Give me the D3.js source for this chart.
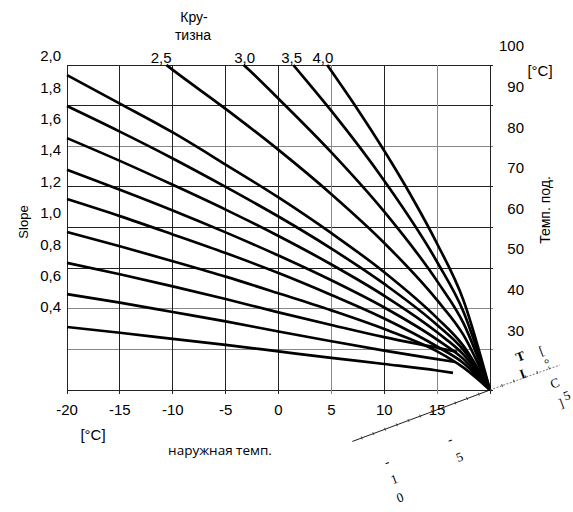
<!DOCTYPE html>
<html>
<head>
<meta charset="utf-8">
<script src="https://cdn.jsdelivr.net/npm/d3@7/dist/d3.min.js"></script>
<style>
  body { margin: 0; background: #fff; }
  text { font-family: "Liberation Sans", Arial, sans-serif; fill: #000; }
</style>
</head>
<body>
<div id="chart"></div>
<script>
// outdoor temperature axis and flow temperature axis
const outdoorTicks = [-20, -15, -10, -5, 0, 5, 10, 15, 20];
const outdoorLabels = ["-20", "-15", "-10", "-5", "0", "5", "10", "15"];
const flowTicks = [100, 90, 80, 70, 60, 50, 40, 30, 20];
const flowLabels = [100, 90, 80, 70, 60, 50, 40, 30];
const slopeLabels = [2.0, 1.8, 1.6, 1.4, 1.2, 1.0, 0.8, 0.6, 0.4];
const topSlopes = ["2,5", "3,0", "3,5", "4,0"];
const topSlopeAt = [-11.1, -3.2, 1.25, 4.2];

// curves: [outdoor temp, flow temp]
const curveA = [[-20, 97.5], [-15, 90.5], [-10, 83.4], [-5, 75.5], [0, 67.4], [5, 58.6], [10, 49.0], [15, 37.7], [17.5, 30.8], [20, 20]];
const curveB = [[-20, 89.9], [-15, 83.6], [-10, 77.0], [-5, 70.0], [0, 62.7], [5, 54.8], [10, 46.1], [15, 36.0], [17.5, 29.8], [20, 20]];
const curveC = [[-20, 82.0], [-15, 76.4], [-10, 70.5], [-5, 64.4], [0, 57.9], [5, 50.9], [10, 43.2], [15, 34.2], [17.5, 28.7], [20, 20]];
const curveD = [[-20, 74.2], [-15, 69.3], [-10, 64.2], [-5, 58.8], [0, 53.1], [5, 47.0], [10, 40.3], [15, 32.4], [17.5, 27.6], [20, 20]];
const curveE = [[-20, 67.0], [-15, 62.8], [-10, 58.3], [-5, 53.7], [0, 48.8], [5, 43.4], [10, 37.6], [15, 30.7], [17.5, 26.6], [20, 20]];
const curveF = [[-20, 58.9], [-15, 55.4], [-10, 51.7], [-5, 47.9], [0, 43.8], [5, 39.6], [10, 35.0], [15, 29.5], [17.5, 25.5], [20, 20]];
const curveG = [[-20, 51.3], [-15, 48.5], [-10, 45.5], [-5, 42.4], [0, 39.1], [5, 36.0], [10, 33.0], [15, 30.4], [16.9, 29.4]];
const curveH = [[-20, 43.6], [-15, 41.5], [-10, 39.2], [-5, 36.9], [0, 34.4], [5, 32.0], [10, 29.7], [15, 27.6], [16.7, 26.9]];
const curveI = [[-20, 35.5], [-15, 34.1], [-10, 32.6], [-5, 31.1], [0, 29.5], [5, 27.9], [10, 26.4], [15, 24.8], [16.5, 24.2]];
const curve25 = [[-10.6, 100], [-10, 98.8], [-5, 89.2], [0, 79.1], [5, 68.2], [10, 56.2], [15, 42.1], [17.5, 33.5], [20, 20]];
const curve30 = [[-3.3, 100], [-2.5, 98.1], [0, 91.7], [5, 78.5], [10, 63.9], [15, 46.8], [17.5, 36.4], [20, 20]];
const curve35 = [[1.4, 100], [2.5, 96.6], [5, 88.7], [10, 71.5], [15, 51.5], [17.5, 39.2], [20, 20]];
const curve40 = [[4.6, 100], [5, 98.5], [7.5, 89.0], [10, 78.9], [12.5, 68.0], [15, 56.0], [17.5, 42.0], [20, 20]];

const greyFlow = [80, 40, 30];
const greyOutdoor = [5, 15];

document.addEventListener("DOMContentLoaded", drawChart);

function drawChart() {
    const width = 573,
        height = 512;

    const svg = d3.select("#chart").append("svg")
        .attr("width", width)
        .attr("height", height);

    const x = d3.scaleLinear().domain([-20, 20]).range([67, 490]);
    const y = d3.scaleLinear().domain([20, 100]).range([390, 65]);
    const ys = d3.scaleLinear().domain([0.4, 2.0]).range([307, 56]);

    // grid
    const grid = svg.append("g");
    grid.selectAll("line.h")
        .data(flowTicks)
        .enter().append("line")
        .attr("x1", x(-20)).attr("x2", x(20) + 3)
        .attr("y1", d => y(d)).attr("y2", d => y(d))
        .attr("stroke", d => greyFlow.includes(d) ? "#888" : "#222")
        .attr("stroke-width", 1)
        .attr("shape-rendering", "crispEdges");
    grid.selectAll("line.v")
        .data(outdoorTicks)
        .enter().append("line")
        .attr("x1", d => x(d)).attr("x2", d => x(d))
        .attr("y1", y(100)).attr("y2", y(20) + 4)
        .attr("stroke", d => greyOutdoor.includes(d) ? "#888" : "#222")
        .attr("stroke-width", 1)
        .attr("shape-rendering", "crispEdges");

    // curves
    const line = d3.line()
        .x(d => x(d[0]))
        .y(d => y(d[1]))
        .curve(d3.curveMonotoneX);
    const curves = [curveA, curveB, curveC, curveD, curveE, curveF, curveG, curveH, curveI, curve25, curve30, curve35, curve40];
    svg.append("g").selectAll("path")
        .data(curves)
        .enter().append("path")
        .attr("d", line)
        .attr("fill", "none")
        .attr("stroke", "#000")
        .attr("stroke-width", 2.7);

    // bottom tick labels
    svg.append("g").selectAll("text")
        .data(outdoorLabels)
        .enter().append("text")
        .attr("x", (d, i) => x(outdoorTicks[i]))
        .attr("y", 415)
        .attr("text-anchor", "middle")
        .attr("font-size", 15)
        .text(d => d);

    // right labels
    svg.append("g").selectAll("text")
        .data(flowLabels)
        .enter().append("text")
        .attr("x", 524)
        .attr("y", d => y(d) - 19)
        .attr("dy", "0.35em")
        .attr("text-anchor", "end")
        .attr("font-size", 15)
        .text(d => d);

    // left labels
    svg.append("g").selectAll("text")
        .data(slopeLabels)
        .enter().append("text")
        .attr("x", 61)
        .attr("y", d => ys(d))
        .attr("dy", "0.35em")
        .attr("text-anchor", "end")
        .attr("font-size", 15)
        .text(d => d.toFixed(1).replace(".", ","));

    // top slope labels
    svg.append("g").selectAll("text")
        .data(topSlopes)
        .enter().append("text")
        .attr("x", (d, i) => x(topSlopeAt[i]))
        .attr("y", 63)
        .attr("text-anchor", "middle")
        .attr("font-size", 15)
        .text(d => d);

    svg.append("text").attr("x", 194).attr("y", 22).attr("text-anchor", "middle").attr("font-size", 14).text("Кру-");
    svg.append("text").attr("x", 193).attr("y", 40).attr("text-anchor", "middle").attr("font-size", 14).text("тизна");
    svg.append("text").attr("x", 540).attr("y", 76).attr("text-anchor", "middle").attr("font-size", 15).text("[°C]");
    svg.append("text").attr("x", 93).attr("y", 440).attr("text-anchor", "middle").attr("font-size", 15).text("[°C]");
    svg.append("text").attr("x", 220).attr("y", 455).attr("text-anchor", "middle").attr("font-size", 13.5)
        .style("font-family", "'Open Sans', sans-serif").text("наружная темп.");
    svg.append("text").attr("transform", "translate(28,222) rotate(-90)").attr("text-anchor", "middle").attr("font-size", 13).text("Slope");
    svg.append("text").attr("transform", "translate(550,210) rotate(-90)").attr("text-anchor", "middle").attr("font-size", 14).text("Темп. под.");

    // skewed room temperature axis
    const room = svg.append("g").attr("transform", "translate(" + x(20) + "," + y(20) + ") rotate(-20.5)");
    room.append("line").attr("x1", -147).attr("x2", 0).attr("y1", 0).attr("y2", 0)
        .attr("stroke", "#000").attr("stroke-width", 0.8);
    room.append("line").attr("x1", 0).attr("x2", 74).attr("y1", 0).attr("y2", 1)
        .attr("stroke", "#777").attr("stroke-width", 1).attr("stroke-dasharray", "2,1.5");
    room.selectAll("line.t")
        .data(d3.range(-137, 74, 12.5))
        .enter().append("line")
        .attr("x1", d => d).attr("x2", d => d)
        .attr("y1", -1.5).attr("y2", 1.5)
        .attr("stroke", "#333").attr("stroke-width", 0.8);
    const roomChars = [["-", -55, 32], ["5", -52, 52], ["-", -122, 31], ["1", -121, 50], ["0", -122, 69],
        ["T", 40, -21], ["I", 36, -4], ["[", 62, -19], ["°", 63, -5], ["C", 63, 16], ["]", 62, 37], ["5", 70, 32]];
    room.selectAll("text")
        .data(roomChars)
        .enter().append("text")
        .attr("x", d => d[1]).attr("y", d => d[2])
        .attr("dy", "0.35em")
        .attr("text-anchor", "middle")
        .attr("font-size", 13)
        .attr("font-weight", d => (d[0] === "T" || d[0] === "I") ? "bold" : "normal")
        .style("font-family", "'Liberation Serif', serif")
        .text(d => d[0]);
}
</script>
</body>
</html>
